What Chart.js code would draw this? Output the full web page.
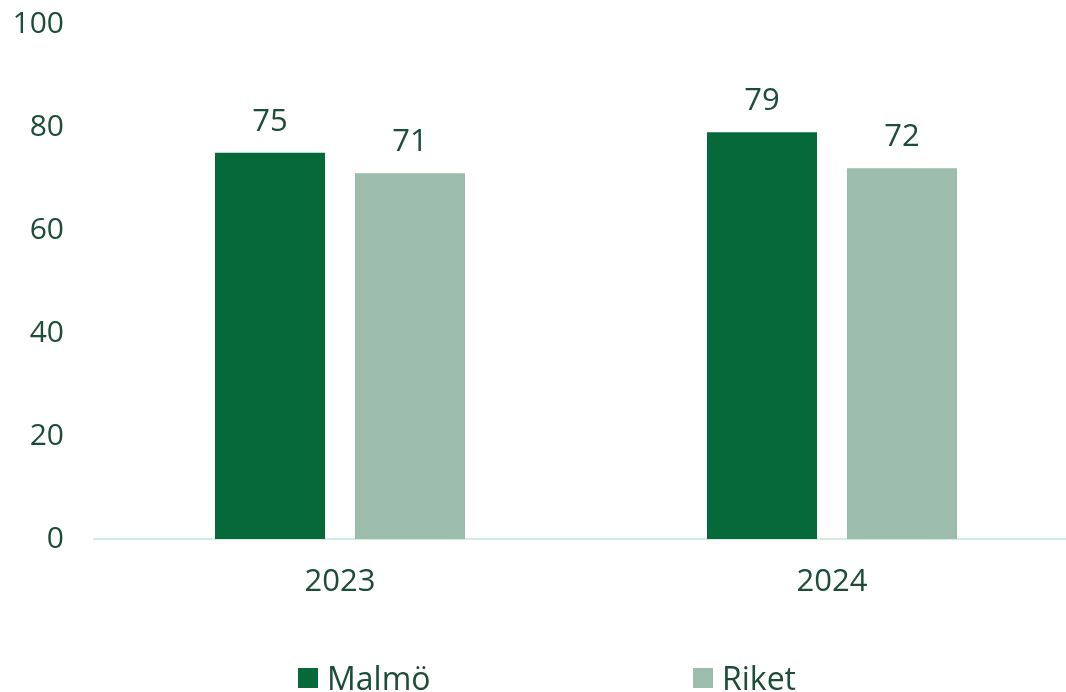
<!DOCTYPE html>
<html>
<head>
<meta charset="utf-8">
<script src="https://cdn.jsdelivr.net/npm/chart.js@4/dist/chart.umd.min.js"></script>
<style>
  html, body { margin: 0; padding: 0; background: #fff; overflow: hidden; }
  #wrap { position: relative; width: 1066px; height: 692px; overflow: hidden; }
  #box { position: absolute; left: 0; top: 0; width: 1078px; height: 692px; }
  .legend { position: absolute; top: 655px; height: 44px; display: flex; align-items: center;
    font-family: "Open Sans", sans-serif; font-size: 32px; color: #1b4d39; }
  .legend i { display: inline-block; width: 20px; height: 20px; margin-right: 9px; margin-top: 1px; }
</style>
</head>
<body>
<div id="wrap">
  <div id="box"><canvas id="chart"></canvas></div>
  <div class="legend" style="left:298px"><i style="background:#056939"></i>Malmö</div>
  <div class="legend" style="left:693px"><i style="background:#9cbdac"></i>Riket</div>
</div>
<script>
const years = ["2023", "2024"];
const malmo = [75, 79];
const riket = [71, 72];
const yTicks = [0, 20, 40, 60, 80, 100];

const textColor = "#1b4d39";

// draws the value above every bar
const barLabels = {
  id: "barLabels",
  afterDatasetsDraw(chart) {
    const ctx = chart.ctx;
    ctx.save();
    ctx.fillStyle = textColor;
    ctx.font = "31px 'Open Sans'";
    ctx.textAlign = "center";
    ctx.textBaseline = "alphabetic";
    chart.data.datasets.forEach((ds, i) => {
      chart.getDatasetMeta(i).data.forEach((bar, j) => {
        ctx.fillText(ds.data[j], bar.x, bar.y - 22);
      });
    });
    ctx.restore();
  },
};

const ctx = document.getElementById("chart").getContext("2d");
const chart = new Chart(ctx, {
  type: "bar",
  data: {
    labels: years,
    datasets: [
      {
        label: "Malmö",
        data: malmo,
        backgroundColor: "#056939",
        barPercentage: 0.786,
        categoryPercentage: 0.569,
      },
      {
        label: "Riket",
        data: riket,
        backgroundColor: "#9cbdac",
        barPercentage: 0.786,
        categoryPercentage: 0.569,
      },
    ],
  },
  options: {
    responsive: true,
    maintainAspectRatio: false,
    animation: false,
    layout: { padding: { top: 24, right: 0, left: 11, bottom: 91 } },
    plugins: {
      tooltip: { enabled: false },
      legend: { display: false },
    },
    scales: {
      x: {
        grid: { display: false, drawTicks: false },
        border: { color: "#d4ede3", width: 2 },
        ticks: {
          color: textColor,
          font: { family: "'Open Sans'", size: 31 },
          padding: 25,
        },
        afterFit(axis) {
          axis.height = 62;
          axis.paddingLeft = 0;
          axis.paddingRight = 0;
        },
      },
      y: {
        min: 0,
        max: 100,
        afterBuildTicks(axis) {
          axis.ticks = yTicks.map((v) => ({ value: v }));
        },
        grid: { display: false, drawTicks: false },
        border: { display: false },
        ticks: {
          color: textColor,
          font: { family: "'Open Sans'", size: 30 },
          padding: 30,
        },
        afterFit(axis) {
          axis.width = 83;
          axis.paddingTop = 0;
          axis.paddingBottom = 0;
        },
      },
    },
  },
  plugins: [barLabels],
});
</script>
</body>
</html>
